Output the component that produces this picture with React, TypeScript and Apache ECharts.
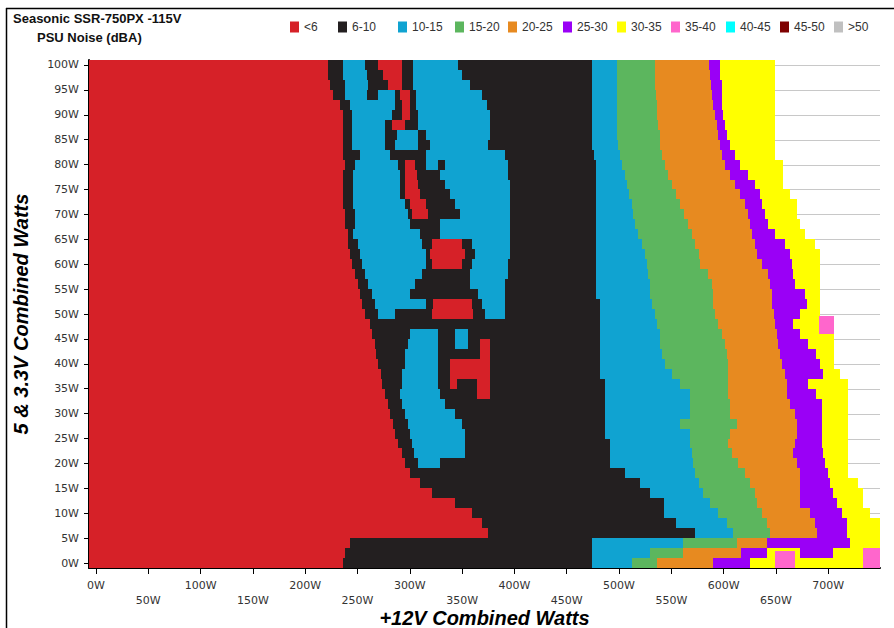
import React, { useEffect, useRef } from 'react';
import * as echarts from 'echarts';

// Noise categories (dBA) and colours
const categories = ['<6', '6-10', '10-15', '15-20', '20-25', '25-30', '30-35', '35-40', '40-45', '45-50', '>50'];
const categoryColors = ['#D62128', '#231F20', '#10A3D1', '#5CB65E', '#E78A20', '#9A00F6', '#FFFF00', '#FF66CC', '#00FFFF', '#7F0000', '#C0C0C0'];

// 5V & 3.3V combined load of each row (W); each row spans +/-1 W
const rowLoads = [100, 98, 96, 94, 92, 90, 88, 86, 84, 82, 80, 78, 76, 74, 72, 70, 68, 66, 64, 62, 60, 58, 56, 54, 52, 50, 48, 46, 44, 42, 40, 38, 36, 34, 32, 30, 28, 26, 24, 22, 20, 18, 16, 14, 12, 10, 8, 6, 4, 2, 0];

// Low-load region of each row: [category, end +12V W, category, end W, ...]
const leftRuns = [
  [0, 222, 1, 236, 2, 257, 1, 270, 0, 293, 1, 303, 2, 346],
  [0, 222, 1, 236, 2, 259, 1, 274, 0, 293, 1, 303, 2, 350],
  [0, 224, 1, 238, 2, 260, 1, 279, 0, 293, 1, 303, 2, 358],
  [0, 227, 1, 238, 2, 259, 1, 270, 2, 286, 1, 291, 0, 300, 1, 306, 2, 369],
  [0, 233, 1, 243, 2, 286, 1, 293, 0, 300, 1, 306, 2, 374],
  [0, 236, 1, 245, 2, 283, 1, 293, 0, 300, 1, 308, 2, 377],
  [0, 236, 1, 245, 2, 276, 1, 283, 0, 295, 1, 308, 2, 377],
  [0, 236, 1, 245, 2, 276, 1, 288, 2, 308, 1, 315, 2, 377],
  [0, 236, 1, 245, 2, 276, 1, 286, 2, 308, 1, 319, 2, 375],
  [0, 236, 1, 252, 2, 281, 1, 315, 2, 391],
  [0, 238, 1, 248, 2, 289, 1, 295, 0, 305, 1, 315, 2, 327, 1, 334, 2, 394],
  [0, 236, 1, 246, 2, 291, 1, 295, 0, 307, 1, 329, 2, 394],
  [0, 236, 1, 246, 2, 291, 1, 295, 0, 308, 1, 334, 2, 396],
  [0, 236, 1, 246, 2, 291, 1, 295, 0, 310, 1, 338, 2, 396],
  [0, 236, 1, 246, 2, 295, 1, 300, 0, 315, 1, 343, 2, 396],
  [0, 238, 1, 248, 2, 298, 1, 302, 0, 317, 1, 348, 2, 396],
  [0, 238, 1, 248, 2, 300, 1, 329, 2, 396],
  [0, 241, 1, 246, 2, 310, 1, 329, 2, 396],
  [0, 241, 1, 250, 2, 312, 1, 321, 0, 350, 1, 359, 2, 396],
  [0, 243, 1, 252, 2, 315, 1, 319, 0, 353, 1, 362, 2, 396],
  [0, 245, 1, 254, 2, 315, 1, 321, 0, 350, 1, 359, 2, 394],
  [0, 248, 1, 257, 2, 312, 1, 358, 2, 394],
  [0, 250, 1, 260, 2, 305, 1, 358, 2, 391],
  [0, 252, 1, 264, 2, 300, 1, 365, 2, 391],
  [0, 254, 1, 267, 2, 315, 1, 322, 0, 359, 1, 369, 2, 391],
  [0, 257, 1, 270, 2, 286, 1, 321, 0, 360, 1, 372, 2, 391],
  [0, 262],
  [0, 264, 1, 300, 2, 327, 1, 343, 2, 356],
  [0, 267, 1, 298, 2, 327, 1, 343, 2, 356, 1, 367, 0, 377],
  [0, 268, 1, 295, 2, 327, 1, 367, 0, 377],
  [0, 270, 1, 295, 2, 327, 1, 338, 0, 377],
  [0, 272, 1, 293, 2, 327, 1, 338, 0, 377],
  [0, 273, 1, 293, 2, 327, 1, 338, 0, 345, 1, 364, 0, 377],
  [0, 276, 1, 291, 2, 329, 1, 364, 0, 377],
  [0, 279, 1, 293, 2, 334],
  [0, 281, 1, 295, 2, 343],
  [0, 284, 1, 298, 2, 350],
  [0, 286, 1, 300, 2, 353],
  [0, 289, 1, 302, 2, 353],
  [0, 293, 1, 304, 2, 353],
  [0, 295, 1, 308, 2, 329],
  [0, 300],
  [0, 310],
  [0, 321],
  [0, 343],
  [0, 359],
  [0, 369],
  [0, 375],
  [0, 243],
  [0, 238],
  [0, 236],
];

// High-load bands: +12V W where each band starts (black fills up to blueStart)
const blueStart = [
  474, 474, 474, 474, 474, 474, 474, 474, 474, 476,
  478, 478, 478, 478, 478, 478, 478, 478, 478, 478,
  478, 478, 478, 478, 482, 482, 482, 482, 482, 482,
  482, 482, 487, 487, 487, 487, 487, 487, 491, 491,
  491, 506, 520, 530, 543, 543, 554, 573, 474, 474,
  474,
];
const greenStart = [
  498, 498, 498, 498, 498, 498, 498, 498, 499, 501,
  503, 506, 508, 510, 512, 513, 515, 518, 522, 525,
  527, 528, 530, 530, 532, 534, 536, 539, 539, 541,
  544, 551, 558, 568, 568, 568, 558, 568, 568, 570,
  571, 573, 576, 580, 587, 595, 603, 609, 561, 530,
  512,
];
const orangeStart = [
  534, 534, 534, 535, 536, 536, 537, 539, 539, 541,
  544, 547, 551, 554, 558, 562, 566, 570, 573, 576,
  577, 585, 589, 590, 590, 592, 595, 598, 601, 603,
  604, 604, 604, 604, 606, 606, 613, 606, 604, 608,
  614, 620, 625, 630, 632, 637, 641, 644, 613, 561,
  536,
];
const purpleStart = [
  586, 587, 588, 589, 590, 592, 594, 595, 597, 598,
  601, 606, 611, 616, 620, 623, 625, 627, 630, 632,
  637, 642, 644, 646, 646, 648, 649, 651, 652, 654,
  656, 659, 661, 661, 663, 668, 670, 670, 668, 666,
  670, 673, 673, 673, 673, 683, 687, 689, 641, 617,
  590,
];
const yellowStart = [
  597, 597, 598, 598, 598, 599, 601, 603, 606, 611,
  616, 623, 630, 635, 637, 640, 642, 649, 659, 663,
  665, 666, 668, 678, 680, 673, 666, 673, 681, 688,
  692, 695, 681, 688, 694, 694, 694, 694, 694, 695,
  697, 700, 702, 705, 708, 713, 718, 718, 721, 641,
  625,
];
const yellowEnd = [
  649, 649, 649, 649, 649, 649, 649, 649, 649, 649,
  657, 657, 657, 663, 670, 670, 673, 678, 687, 692,
  692, 692, 692, 692, 692, 692, 692, 706, 706, 706,
  706, 711, 719, 719, 719, 719, 719, 719, 719, 719,
  719, 719, 728, 733, 733, 740, 749.5, 749.5, 749.5, 749.5,
  749.5,
];

// Isolated cells: [x0 W, x1 W, y0 W, y1 W, category]
const patches = [
  [691, 706, 46, 49.5, 7],
  [673, 705, 1, 3, 5],
  [649, 668, -1, 2.5, 7],
  [733, 749.5, -1, 3, 7],
];

const xLabelsRow1 = [0, 100, 200, 300, 400, 500, 600, 700];
const xLabelsRow2 = [50, 150, 250, 350, 450, 550, 650];
const xMajorTicks = [0, 50, 100, 150, 200, 250, 300, 350, 400, 450, 500, 550, 600, 650, 700];
const yMajorTicks = [0, 5, 10, 15, 20, 25, 30, 35, 40, 45, 50, 55, 60, 65, 70, 75, 80, 85, 90, 95, 100];

const X_MIN = -6.7;
const X_MAX = 749.5;
const Y_MIN = -1;
const Y_MAX = 101;

const legendLeft = [290, 338, 398, 455, 508, 563, 617, 671, 726, 780, 834];

export default function App() {
  const ref = useRef<HTMLDivElement>(null);

  useEffect(() => {
    if (!ref.current) return;
    const chart = echarts.init(ref.current, null, { renderer: 'svg' });

    const buckets: number[][][] = categories.map(() => []);
    rowLoads.forEach((Y, i) => {
      const y0 = Math.max(Y_MIN, Y - 1);
      const y1 = Math.min(Y_MAX, Y + 1);
      let start = X_MIN;
      const push = (cat: number, end: number) => {
        if (end > start) {
          buckets[cat].push([start, end, y0, y1]);
          start = end;
        }
      };
      const runs = leftRuns[i];
      for (let k = 0; k < runs.length; k += 2) push(runs[k], runs[k + 1]);
      push(1, blueStart[i]);
      push(2, greenStart[i]);
      push(3, orangeStart[i]);
      push(4, purpleStart[i]);
      push(5, yellowStart[i]);
      push(6, yellowEnd[i]);
    });

    // rectangles snapped to whole pixels so neighbouring cells meet without seams
    const rectRender = (fillOf: (api: any) => string) => (params: any, api: any) => {
      const a = api.coord([api.value(0), api.value(3)]);
      const b = api.coord([api.value(1), api.value(2)]);
      const x0 = Math.round(a[0]);
      const y0 = Math.round(a[1]);
      const x1 = Math.round(b[0]);
      const y1 = Math.round(b[1]);
      return {
        type: 'rect',
        shape: { x: x0, y: y0, width: x1 - x0, height: y1 - y0 },
        style: { fill: fillOf(api) },
      };
    };

    const xMinor: number[] = [];
    for (let v = 0; v <= 740; v += 12.5) if (v % 50 !== 0) xMinor.push(v);
    const yMinor: number[] = [];
    for (let v = 0; v <= 101; v += 1) if (v % 5 !== 0) yMinor.push(v);

    const labelStyle = { fontFamily: 'DejaVu Sans', fontSize: 11, color: '#333' };
    const nameStyle = { fontFamily: 'Liberation Sans', fontSize: 20, fontWeight: 'bold', fontStyle: 'italic', color: '#000' };

    const series: any[] = [
      {
        type: 'custom',
        silent: true,
        z: 1,
        data: yMajorTicks.map((v) => [X_MIN, X_MAX, v]),
        encode: { x: [0, 1], y: 2 },
        renderItem: (params: any, api: any) => {
          const a = api.coord([api.value(0), api.value(2)]);
          const b = api.coord([api.value(1), api.value(2)]);
          return {
            type: 'line',
            shape: { x1: a[0], y1: Math.round(a[1]) + 0.5, x2: b[0], y2: Math.round(a[1]) + 0.5 },
            style: { stroke: '#c8c8c8', lineWidth: 1 },
          };
        },
      },
      ...categories.map((name, c) => ({
        type: 'custom',
        name,
        z: 2,
        silent: true,
        itemStyle: { color: categoryColors[c] },
        data: buckets[c],
        encode: { x: [0, 1], y: [2, 3] },
        renderItem: rectRender(() => categoryColors[c]),
      })),
      {
        type: 'custom',
        z: 3,
        silent: true,
        data: patches,
        encode: { x: [0, 1], y: [2, 3] },
        renderItem: rectRender((api) => categoryColors[api.value(4)]),
      },
    ];

    chart.setOption({
      animation: false,
      backgroundColor: '#fff',
      grid: { left: 89, top: 60, width: 791, height: 508, containLabel: false, outerBoundsMode: 'none' },
      legend: categories.map((c, i) => ({
        data: [c],
        left: legendLeft[i],
        top: 21,
        padding: 0,
        itemWidth: 9,
        itemHeight: 11,
        icon: 'rect',
        selectedMode: false,
        textStyle: { fontFamily: 'Liberation Sans', fontSize: 12, color: '#333' },
      })),
      xAxis: [
        {
          type: 'value',
          min: X_MIN,
          max: X_MAX,
          position: 'bottom',
          name: '+12V Combined Watts',
          nameLocation: 'middle',
          nameGap: 40,
          nameTextStyle: nameStyle,
          axisLine: { show: true, onZero: false, lineStyle: { color: '#000', width: 2 } },
          axisTick: { show: true, customValues: xMajorTicks, length: 6, lineStyle: { color: '#000' } },
          axisLabel: { customValues: xLabelsRow1, margin: 12, formatter: '{value}W', ...labelStyle },
          splitLine: { show: false },
        },
        {
          type: 'value',
          min: X_MIN,
          max: X_MAX,
          position: 'bottom',
          axisLine: { show: false },
          axisTick: { show: true, customValues: xMinor, length: 3, lineStyle: { color: '#000' } },
          axisLabel: { customValues: xLabelsRow2, margin: 27, formatter: '{value}W', ...labelStyle },
          splitLine: { show: false },
        },
      ],
      yAxis: [
        {
          type: 'value',
          min: Y_MIN,
          max: Y_MAX,
          position: 'left',
          name: '5 & 3.3V Combined Watts',
          nameLocation: 'middle',
          nameGap: 58,
          nameRotate: 90,
          nameTextStyle: nameStyle,
          axisLine: { show: true, onZero: false, lineStyle: { color: '#000', width: 2 } },
          axisTick: { show: true, customValues: yMajorTicks, length: 5, lineStyle: { color: '#000' } },
          axisLabel: { customValues: yMajorTicks, margin: 10, formatter: '{value}W', ...labelStyle },
          splitLine: { show: false },
        },
        {
          type: 'value',
          min: Y_MIN,
          max: Y_MAX,
          position: 'left',
          axisLine: { show: false },
          axisTick: { show: true, customValues: yMinor, length: 3, lineStyle: { color: '#000' } },
          axisLabel: { show: false },
          splitLine: { show: false },
        },
      ],
      graphic: [
        { type: 'line', shape: { x1: 6, y1: 8.5, x2: 894, y2: 8.5 }, style: { stroke: '#000', lineWidth: 1.5 } },
        { type: 'line', shape: { x1: 6.5, y1: 8, x2: 6.5, y2: 628 }, style: { stroke: '#000', lineWidth: 1.5 } },
        {
          type: 'text',
          x: 13,
          y: 18,
          style: { text: 'Seasonic SSR-750PX -115V', font: 'bold 13px "Liberation Sans"', fill: '#111', textVerticalAlign: 'middle' },
        },
        {
          type: 'text',
          x: 37,
          y: 37,
          style: { text: 'PSU Noise (dBA)', font: 'bold 13px "Liberation Sans"', fill: '#111', textVerticalAlign: 'middle' },
        },
      ],
      series,
    });

    return () => chart.dispose();
  }, []);

  return <div ref={ref} style={{ position: 'absolute', left: 0, top: 0, width: 894, height: 628 }} />;
}
